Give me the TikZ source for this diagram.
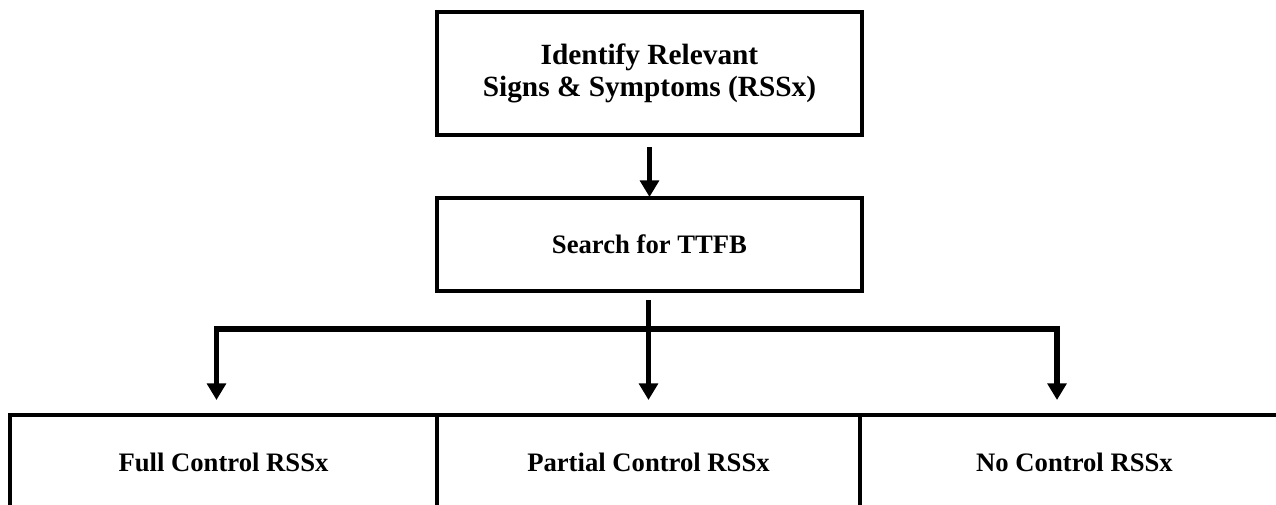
\documentclass[tikz,border=0pt]{standalone}
\usepackage{fontspec}
\setmainfont{Liberation Serif}
\usetikzlibrary{arrows.meta,calc}
\begin{document}
\begin{tikzpicture}[x=0.75pt,y=-0.75pt,
  box/.style={draw,line width=2.4pt,rectangle,inner sep=0pt,outer sep=0pt,align=center,font=\bfseries\fontsize{20}{24}\selectfont},
  flow/.style={line width=4.4pt,-{Triangle[width=14pt,length=12.5pt]}},
  tree/.style={line width=4.4pt,{Triangle[width=14pt,length=12.5pt]}-{Triangle[width=14pt,length=12.5pt]}}]
\useasboundingbox (0,0) rectangle (1276,504);
\clip (0,0) rectangle (1276,504);
\node[box,minimum width=318.75pt,minimum height=92.25pt,font=\bfseries\fontsize{22}{23.5}\selectfont] (top) at (649.5,73.5) {Identify Relevant\\Signs \& Symptoms (RSSx)};
\node[box,minimum width=318.75pt,minimum height=69.75pt] (mid) at (649.5,244.5) {Search for TTFB};
\node[box,minimum width=320.25pt,minimum height=70.5pt] (full) at (223.5,462) {Full Control RSSx};
\node[box,minimum width=317.25pt,minimum height=70.5pt] (partial) at (648.5,462) {Partial Control RSSx};
\node[box,minimum width=321.75pt,minimum height=70.5pt] (none) at (1074.5,462) {No Control RSSx};
\coordinate (A1s) at ($(top.south)+(0,12)$);
\coordinate (A1e) at ($(mid.north)+(0,-1)$);
\coordinate (J0) at ($(mid.south)+(-1,9)$);
\coordinate (L) at (216.5,329);
\coordinate (R) at (1057,329);
\coordinate (LT) at ($(L |- full.north)+(0,-15)$);
\coordinate (RT) at ($(R |- full.north)+(0,-15)$);
\coordinate (MT) at ($(J0 |- partial.north)+(0,-15)$);
\draw[flow] (A1s) -- (A1e);
\draw[tree] (LT) -- (L) -- (R) -- (RT);
\draw[flow] (J0) -- (MT);
\end{tikzpicture}
\end{document}
